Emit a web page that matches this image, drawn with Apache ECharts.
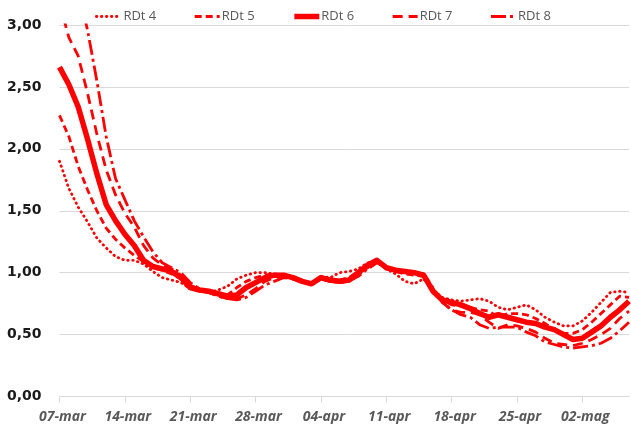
<!DOCTYPE html>
<html>
<head>
<meta charset="utf-8">
<script src="https://cdn.jsdelivr.net/npm/echarts@6/dist/echarts.min.js"></script>
<style>
  html, body { margin: 0; padding: 0; background: #ffffff; }
  #chart { width: 631px; height: 428px; }
</style>
</head>
<body>
<div id="chart"></div>
<script>
// Giorni (asse categorie)
const days = [
  '07-mar','08-mar','09-mar','10-mar','11-mar','12-mar','13-mar','14-mar','15-mar','16-mar',
  '17-mar','18-mar','19-mar','20-mar','21-mar','22-mar','23-mar','24-mar','25-mar','26-mar',
  '27-mar','28-mar','29-mar','30-mar','31-mar','01-apr','02-apr','03-apr','04-apr','05-apr',
  '06-apr','07-apr','08-apr','09-apr','10-apr','11-apr','12-apr','13-apr','14-apr','15-apr',
  '16-apr','17-apr','18-apr','19-apr','20-apr','21-apr','22-apr','23-apr','24-apr','25-apr',
  '26-apr','27-apr','28-apr','29-apr','30-apr','01-mag','02-mag','03-mag','04-mag','05-mag',
  '06-mag','07-mag'
];

// Stime dell'indice RDt con finestre diverse
const rdt4 = [1.90,1.68,1.53,1.41,1.28,1.20,1.13,1.10,1.10,1.07,
  1.01,0.96,0.94,0.92,0.87,0.85,0.84,0.86,0.89,0.95,
  0.98,1.00,1.00,0.99,0.98,0.95,0.93,0.92,0.97,0.96,
  1.00,1.01,1.03,1.08,1.09,1.03,0.99,0.93,0.91,0.95,
  0.86,0.80,0.78,0.77,0.78,0.79,0.77,0.72,0.70,0.72,
  0.74,0.70,0.64,0.60,0.57,0.57,0.61,0.68,0.76,0.84,
  0.85,0.84];
const rdt5 = [2.27,2.10,1.86,1.67,1.50,1.36,1.27,1.20,1.14,1.09,
  1.04,1.02,0.99,0.95,0.88,0.86,0.84,0.82,0.82,0.88,
  0.93,0.96,0.98,0.99,0.98,0.95,0.93,0.92,0.96,0.94,
  0.94,0.96,1.01,1.07,1.10,1.03,1.01,0.99,0.98,0.97,
  0.84,0.78,0.74,0.73,0.72,0.70,0.69,0.64,0.67,0.67,
  0.66,0.63,0.59,0.54,0.51,0.51,0.54,0.60,0.67,0.74,
  0.81,0.80];
const rdt6 = [2.66,2.52,2.34,2.08,1.80,1.55,1.42,1.31,1.22,1.10,
  1.05,1.03,1.01,0.96,0.88,0.86,0.85,0.83,0.81,0.82,
  0.88,0.92,0.96,0.98,0.98,0.96,0.93,0.91,0.96,0.94,
  0.93,0.94,1.00,1.06,1.10,1.04,1.02,1.01,1.00,0.98,
  0.85,0.78,0.76,0.74,0.71,0.67,0.64,0.66,0.64,0.62,
  0.60,0.59,0.56,0.54,0.50,0.46,0.47,0.52,0.57,0.64,
  0.70,0.77];
const rdt7 = [3.18,2.90,2.75,2.45,2.12,1.83,1.63,1.48,1.37,1.22,
  1.12,1.06,1.03,0.98,0.90,0.86,0.84,0.81,0.79,0.79,
  0.82,0.87,0.93,0.96,0.97,0.95,0.93,0.91,0.95,0.93,
  0.92,0.93,0.98,1.04,1.09,1.04,1.02,1.01,1.00,0.99,
  0.87,0.76,0.70,0.68,0.68,0.66,0.60,0.55,0.58,0.57,
  0.55,0.52,0.47,0.43,0.42,0.41,0.43,0.46,0.50,0.55,
  0.63,0.69];
const rdt8 = [3.90,3.58,3.28,2.96,2.55,2.10,1.76,1.59,1.42,1.29,
  1.17,1.08,1.04,1.00,0.92,0.87,0.84,0.81,0.79,0.78,
  0.80,0.85,0.90,0.93,0.96,0.95,0.93,0.91,0.95,0.93,
  0.92,0.93,0.97,1.03,1.08,1.04,1.02,1.01,1.00,0.99,
  0.88,0.76,0.70,0.66,0.64,0.58,0.55,0.56,0.56,0.56,
  0.52,0.49,0.44,0.42,0.40,0.39,0.40,0.41,0.43,0.47,
  0.53,0.60];

const seriesNames = ['RDt 4', 'RDt 5', 'RDt 6', 'RDt 7', 'RDt 8'];
const yTicks = [0, 0.5, 1, 1.5, 2, 2.5, 3];

const RED = '#ff0000';
const lineStyles = [
  { width: 2.8, type: [0.5, 4.5], cap: 'round' },
  { width: 2.8, type: [7, 4] },
  { width: 5.5, type: 'solid' },
  { width: 2.8, type: [10, 6] },
  { width: 2.8, type: [15, 4, 3, 4] }
];
const values = [rdt4, rdt5, rdt6, rdt7, rdt8];

const chart = echarts.init(document.getElementById('chart'), null, { renderer: 'canvas' });
chart.setOption({
  animation: false,
  backgroundColor: '#ffffff',
  legend: {
    top: 10,
    left: 95,
    orient: 'horizontal',
    itemWidth: 25,
    itemHeight: 10,
    itemGap: 37,
    padding: 0,
    itemStyle: { opacity: 0 },
    textStyle: { fontFamily: 'Open Sans', fontSize: 13, color: '#595959', padding: [0, 0, 0, -3] },
    data: seriesNames.map((name, i) => ({
      name,
      lineStyle: { width: i === 2 ? 5.5 : 2.8 }
    }))
  },
  grid: { left: 59.5, right: 2, top: 25, bottom: 31.5, containLabel: false },
  xAxis: {
    type: 'category',
    data: days,
    boundaryGap: false,
    axisLine: { lineStyle: { color: '#d9d9d9', width: 1 } },
    axisTick: { show: true, interval: 6, length: 6, lineStyle: { color: '#d9d9d9' } },
    axisLabel: {
      interval: 6,
      margin: 14,
      fontFamily: 'Open Sans',
      fontSize: 14,
      fontWeight: 'bold',
      fontStyle: 'italic',
      color: '#595959',
      padding: [0, 0, 0, 6]
    },
    splitLine: { show: false }
  },
  yAxis: {
    type: 'value',
    min: yTicks[0],
    max: yTicks[yTicks.length - 1],
    interval: 0.5,
    axisLine: { show: false },
    axisTick: { show: false },
    splitLine: { lineStyle: { color: '#d9d9d9', width: 1 } },
    axisLabel: {
      margin: 18,
      fontFamily: 'DejaVu Sans',
      fontSize: 14,
      fontWeight: 'bold',
      color: '#1a1a1a',
      formatter: v => v.toFixed(2).replace('.', ',')
    }
  },
  series: seriesNames.map((name, i) => ({
    name,
    type: 'line',
    data: values[i],
    symbol: 'none',
    clip: true,
    smooth: false,
    itemStyle: { color: RED },
    lineStyle: Object.assign({ color: RED, join: 'round' }, lineStyles[i]),
    z: i === 2 ? 3 : 2
  }))
});
</script>
</body>
</html>
